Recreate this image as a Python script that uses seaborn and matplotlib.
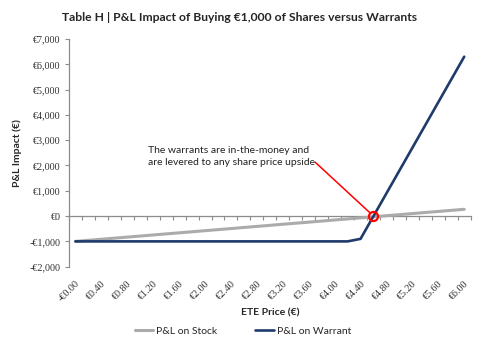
import matplotlib
matplotlib.use("Agg")
import matplotlib.pyplot as plt
import pandas as pd
import seaborn as sns

# ETE share price scenarios (EUR), one every 0.20
prices = [0.0, 0.2, 0.4, 0.6, 0.8, 1.0, 1.2, 1.4, 1.6, 1.8, 2.0, 2.2, 2.4, 2.6,
          2.8, 3.0, 3.2, 3.4, 3.6, 3.8, 4.0, 4.2, 4.4, 4.6, 4.8, 5.0, 5.2, 5.4,
          5.6, 5.8, 6.0]

# P&L on EUR 1,000 invested in the shares
pl_stock = [-1000, -958, -915, -873, -831, -789, -746, -704, -662, -619, -577,
            -535, -493, -450, -408, -366, -323, -281, -239, -197, -154, -112,
            -70, -27, 15, 57, 99, 142, 184, 226, 268]

# P&L on EUR 1,000 invested in the warrants
pl_warrant = [-1000, -1000, -1000, -1000, -1000, -1000, -1000, -1000, -1000,
              -1000, -1000, -1000, -1000, -1000, -1000, -1000, -1000, -1000,
              -1000, -1000, -1000, -1000, -900, 0, 900, 1800, 2700, 3600,
              4500, 5400, 6300]

tick_prices = [0.0, 0.4, 0.8, 1.2, 1.6, 2.0, 2.4, 2.8, 3.2, 3.6, 4.0, 4.4,
               4.8, 5.2, 5.6, 6.0]
tick_labels = ["-€0.00", "€0.40", "€0.80", "€1.20", "€1.60", "€2.00", "€2.40",
               "€2.80", "€3.20", "€3.60", "€4.00", "€4.40", "€4.80", "€5.20",
               "€5.60", "€6.00"]
y_ticks = [-2000, -1000, 0, 1000, 2000, 3000, 4000, 5000, 6000, 7000]
y_labels = ["-€2,000", "-€1,000", "€0", "€1,000", "€2,000", "€3,000",
            "€4,000", "€5,000", "€6,000", "€7,000"]

series_names = ["P&L on Stock", "P&L on Warrant"]
highlight_idx = 23  # EUR 4.60, where the warrant breaks even

df = pd.DataFrame({
    "price": prices * 2,
    "pl": pl_stock + pl_warrant,
    "series": [series_names[0]] * len(prices) + [series_names[1]] * len(prices),
})

sns.set_theme(style="white")
plt.rcParams["font.family"] = ["Lato", "DejaVu Sans"]

GREY = "#ABABAB"
NAVY = "#1F3A6B"
AXIS = "#8C8C8C"
TICKFONT = ["Liberation Serif", "DejaVu Serif"]

fig = plt.figure(figsize=(4.8, 3.42), dpi=100)
ax = fig.add_axes([0.1437, 0.2202, 0.8369, 0.6658])

sns.lineplot(data=df, x="price", y="pl", hue="series",
             palette={series_names[0]: GREY, series_names[1]: NAVY},
             ax=ax, legend=False, linewidth=2.0, sort=False)
for line, lw in zip(ax.lines, [2.2, 1.9]):
    line.set_linewidth(lw)

ax.set_xlim(-0.1, 6.1)
ax.set_ylim(-2000, 7000)

# Category-style x axis: labels below the plot, ticks on the zero line
ax.set_xticks(tick_prices)
ax.set_xticklabels(tick_labels, rotation=45, ha="right",
                   rotation_mode="anchor", family=TICKFONT, fontsize=7.3,
                   color="#333333")
ax.tick_params(axis="x", length=0, pad=9)

zero_axis = ax.secondary_xaxis(2 / 9)
boundaries = [p - 0.1 for p in prices] + [prices[-1] + 0.1]
zero_axis.set_xticks(boundaries)
zero_axis.set_xticklabels([])
zero_axis.tick_params(axis="x", direction="out", length=3, width=0.8,
                      color=AXIS)
zero_axis.spines["bottom"].set_color(AXIS)
zero_axis.spines["bottom"].set_linewidth(0.9)
zero_axis.spines["top"].set_visible(False)
zero_axis.set_zorder(0.5)

ax.set_yticks(y_ticks)
ax.set_yticklabels(y_labels, family=TICKFONT, fontsize=7.3, color="#333333")
ax.tick_params(axis="y", left=True, direction="out", length=3, width=0.8,
               color=AXIS, pad=3)

for side in ["top", "right", "bottom"]:
    ax.spines[side].set_visible(False)
ax.spines["left"].set_color(AXIS)
ax.spines["left"].set_linewidth(0.9)

ax.set_xlabel("ETE Price (€)", fontsize=7.5, fontweight="bold")
ax.xaxis.set_label_coords(0.5, -0.203)
ax.xaxis.label.set_va("center")
ax.set_ylabel("P&L Impact (€)", fontsize=7.5, fontweight="bold")
ax.yaxis.set_label_coords(-0.128, 0.5)
ax.yaxis.label.set_va("center")

fig.text(0.5, 0.95, "Table H | P&L Impact of Buying €1,000 of Shares versus Warrants",
         ha="center", va="center", fontsize=8.7, fontweight="bold")

# Break-even highlight and callout
hx, hy = prices[highlight_idx], pl_warrant[highlight_idx]
ax.plot([hx], [hy], marker="o", ms=6.5, mfc="none", mec="#FF0000", mew=1.6,
        zorder=5)
ax.annotate("", xy=(hx, hy), xytext=(3.70, 2130),
            arrowprops=dict(arrowstyle="-", color="#FF0000", lw=1.1,
                            shrinkA=0, shrinkB=4))
ax.text(1.12, 2370,
        "The warrants are in-the-money and\nare levered to any share price upside",
        ha="left", va="center", fontsize=7.5, linespacing=1.45, color="#222222")

handles = [plt.Line2D([], [], color=GREY, lw=2.2),
           plt.Line2D([], [], color=NAVY, lw=1.9)]
fig.legend(handles, series_names, loc="center", bbox_to_anchor=(0.506, 0.032),
           ncol=2, frameon=False, fontsize=7.5, handlelength=1.8,
           handletextpad=0.3, columnspacing=3.6)

fig.savefig("out.png", dpi=100)
